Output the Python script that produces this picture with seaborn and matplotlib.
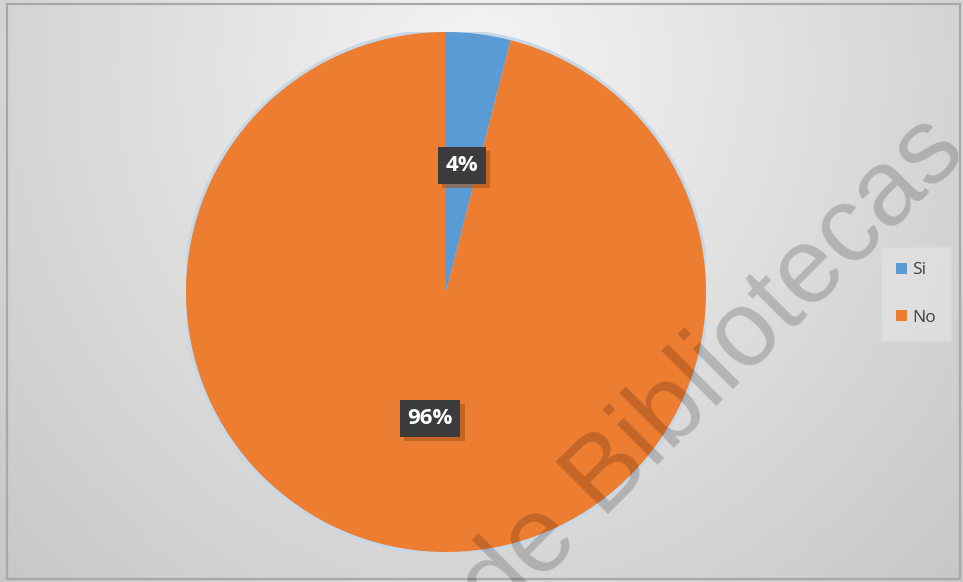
import numpy as np
import matplotlib
matplotlib.use("Agg")
import matplotlib.pyplot as plt
import matplotlib.patches as mpatches
import matplotlib.patheffects as pe
import seaborn as sns

# Data
categories = ["Si", "No"]
shares = [4, 96]
slice_colors = ["#5B9BD5", "#ED7D31"]

sns.set_theme(style="white")
sns.set_palette(slice_colors)
plt.rcParams["font.family"] = ["Open Sans", "DejaVu Sans"]

W, H, DPI = 963, 582, 100
fig = plt.figure(figsize=(W / DPI, H / DPI), dpi=DPI)

# Soft radial gradient background
bg_ax = fig.add_axes([0, 0, 1, 1], zorder=-10)
yy, xx = np.mgrid[0:H, 0:W]
d = np.sqrt(((xx - 480) / 560.0) ** 2 + ((yy - 70) / 620.0) ** 2)
shade = np.clip(0.96 - 0.15 * d, 0, 1)
bg_ax.imshow(np.dstack([shade, shade, shade]), extent=[0, W, H, 0], aspect="auto")
bg_ax.set_xlim(0, W)
bg_ax.set_ylim(H, 0)
bg_ax.axis("off")
bg_ax.add_patch(mpatches.Rectangle((7, 4), W - 10, H - 7, fill=False,
                                   edgecolor="#a8a8a8", linewidth=1.6))

# Pie axes: centre (446, 292) px, radius 260 px
cx, cy, r = 446, 292, 260
ax = fig.add_axes([(cx - r) / W, (H - cy - r) / H, 2 * r / W, 2 * r / H])

# faint halo around the pie
ax.add_patch(mpatches.Circle((0, 0), 1.012, facecolor="#c6d8e8", edgecolor="none", zorder=0))

wedges, _, pct_texts = ax.pie(
    shares, colors=slice_colors, startangle=90, counterclock=False,
    radius=1.0, autopct="%1.0f%%", pctdistance=0.49,
    wedgeprops=dict(edgecolor="none"),
    textprops=dict(color="white", fontsize=16, fontweight="bold"),
)
for w in wedges:
    w.set_zorder(1)
ax.set_xlim(-1, 1)
ax.set_ylim(-1, 1)
ax.set_aspect("equal")
ax.axis("off")

for t in pct_texts:
    t.set_bbox(dict(boxstyle="square,pad=0.35", facecolor="#3c3c3c", edgecolor="none"))
    t.set_zorder(5)
    t.get_bbox_patch().set_path_effects([
        pe.SimplePatchShadow(offset=(3, -3), shadow_rgbFace="#a9541b", alpha=0.6),
        pe.Normal(),
    ])

# Legend
handles = [mpatches.Patch(facecolor=c, edgecolor="none", label=l)
           for c, l in zip(slice_colors, categories)]
leg = fig.legend(handles=handles, loc="center",
                 bbox_to_anchor=(916 / W, 1 - 294 / H),
                 fontsize=12.5, frameon=True, handlelength=0.6, handleheight=0.6,
                 handletextpad=0.3, labelspacing=1.8, borderpad=0.9,
                 fancybox=False)
leg.get_frame().set_facecolor("#e6e6e6")
leg.get_frame().set_edgecolor("#dadada")
leg.get_frame().set_alpha(0.6)
for txt in leg.get_texts():
    txt.set_color("#404040")

# Watermark
fig.text(733 / W, 1 - 390 / H, "de Bibliotecas", family=["Liberation Sans", "DejaVu Sans"],
         fontsize=77, color="black", alpha=0.18, rotation=45,
         rotation_mode="anchor", ha="center", va="baseline", zorder=20)

fig.savefig("out.png", dpi=DPI)
